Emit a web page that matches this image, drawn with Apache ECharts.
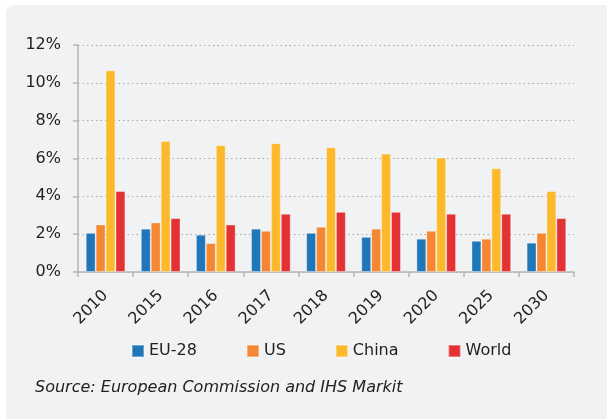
<!DOCTYPE html>
<html>
<head>
<meta charset="utf-8">
<script src="https://cdn.jsdelivr.net/npm/echarts@6/dist/echarts.min.js"></script>
<style>
html,body{margin:0;padding:0;background:#fff;}
#panel{position:absolute;left:6px;top:5px;width:620px;height:430px;background:#f1f2f4;border-radius:8px;}
#chart{position:absolute;left:0;top:0;width:607px;height:419px;}
</style>
</head>
<body>
<div id="panel"></div>
<div id="chart"></div>
<script>
var categories = ['2010','2015','2016','2017','2018','2019','2020','2025','2030'];
var eu28  = [2.07, 2.29, 1.97, 2.29, 2.07, 1.86, 1.76, 1.65, 1.55];
var us    = [2.51, 2.62, 1.53, 2.18, 2.39, 2.29, 2.18, 1.76, 2.07];
var china = [10.66, 6.93, 6.70, 6.81, 6.60, 6.26, 6.05, 5.49, 4.28];
var world = [4.28, 2.85, 2.51, 3.08, 3.18, 3.18, 3.08, 3.08, 2.85];
var yTicks = [0, 2, 4, 6, 8, 10, 12];
var seriesNames = ['EU-28', 'US', 'China', 'World'];
var colors = ['#1f76b9', '#f58632', '#fdb92c', '#e43234'];

var chart = echarts.init(document.getElementById('chart'), null, {renderer: 'canvas'});
var font = 'DejaVu Sans';
function mk(name, data, i) {
  return {
    name: name, type: 'bar', data: data,
    barGap: '0%', barCategoryGap: '28%',
    itemStyle: {color: colors[i], borderColor: 'rgba(255,255,255,0.35)', borderWidth: 1},
    emphasis: {disabled: true}
  };
}
chart.setOption({
  backgroundColor: 'transparent',
  animation: false,
  textStyle: {fontFamily: font},
  grid: {left: 78, right: 33, top: 45, bottom: 147, containLabel: false, outerBoundsMode: 'none'},
  legend: {
    data: seriesNames, left: 131, top: 343, padding: 0, itemWidth: 12, itemHeight: 12, itemGap: 49,
    icon: 'rect', textStyle: {fontFamily: font, fontSize: 16, color: '#222'},
    selectedMode: false
  },
  xAxis: {
    type: 'category', data: categories,
    axisLine: {lineStyle: {color: '#b5b5b5', width: 1.5}},
    axisTick: {show: true, length: 5, lineStyle: {color: '#b5b5b5', width: 1.5}},
    axisLabel: {rotate: 45, margin: 21, fontSize: 16, color: '#222', fontFamily: font}
  },
  yAxis: {
    type: 'value', min: yTicks[0], max: yTicks[yTicks.length - 1], interval: 2,
    axisLine: {show: true, lineStyle: {color: '#b5b5b5', width: 1.5}},
    axisTick: {show: true, length: 5, lineStyle: {color: '#b5b5b5', width: 1.5}},
    axisLabel: {formatter: '{value}%', margin: 17, fontSize: 16, color: '#222', fontFamily: font, align: 'right'},
    splitLine: {show: true, lineStyle: {color: '#aaaaaa', type: [1.5, 3], width: 1}}
  },
  graphic: [{
    type: 'text', left: 35, top: 380,
    style: {text: 'Source: European Commission and IHS Markit', fill: '#222',
            font: 'italic 16px DejaVu Sans'}
  }],
  series: [mk(seriesNames[0], eu28, 0), mk(seriesNames[1], us, 1), mk(seriesNames[2], china, 2), mk(seriesNames[3], world, 3)]
});
</script>
</body>
</html>
